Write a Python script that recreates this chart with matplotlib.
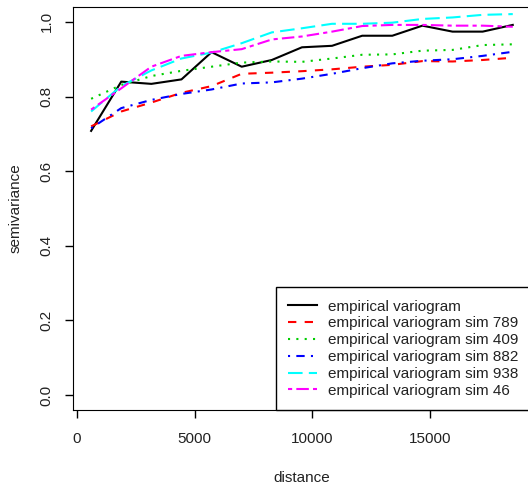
import matplotlib.pyplot as plt

plt.rcParams['font.family'] = ['Liberation Sans', 'DejaVu Sans']

# lag distances
dist = [600, 1880, 3160, 4440, 5720, 7000, 8280, 9560, 10840, 12120,
        13400, 14680, 15960, 17240, 18520]

# semivariance values
emp = [0.708, 0.840, 0.834, 0.846, 0.919, 0.880, 0.898, 0.932, 0.936, 0.963,
       0.963, 0.990, 0.974, 0.974, 0.992]
sim789 = [0.720, 0.760, 0.784, 0.810, 0.828, 0.861, 0.864, 0.868, 0.873, 0.880,
          0.885, 0.895, 0.894, 0.898, 0.904]
sim409 = [0.794, 0.831, 0.855, 0.869, 0.880, 0.891, 0.894, 0.893, 0.902, 0.912,
          0.913, 0.923, 0.925, 0.938, 0.940]
sim882 = [0.715, 0.769, 0.791, 0.807, 0.819, 0.835, 0.838, 0.848, 0.861, 0.876,
          0.889, 0.896, 0.900, 0.909, 0.920]
sim938 = [0.760, 0.828, 0.870, 0.902, 0.918, 0.943, 0.972, 0.983, 0.995, 0.995,
          0.998, 1.008, 1.012, 1.019, 1.021]
sim46 = [0.765, 0.822, 0.880, 0.909, 0.919, 0.927, 0.953, 0.961, 0.974, 0.989,
         0.992, 0.992, 0.990, 0.990, 0.987]

labels = ["empirical variogram", "empirical variogram sim 789",
          "empirical variogram sim 409", "empirical variogram sim 882",
          "empirical variogram sim 938", "empirical variogram sim 46"]

fs = 11

fig = plt.figure(figsize=(5.28, 4.87), dpi=100)
ax = fig.add_axes([73/528, 77/487, (531-73)/528, 403/487])

lw = 1.5
ax.plot(dist, emp, color='black', lw=lw, label=labels[0])
ax.plot(dist, sim789, color='#FF0000', lw=lw, dashes=(4, 4), label=labels[1])
ax.plot(dist, sim409, color='#00CD00', lw=lw, dashes=(1, 3), label=labels[2])
ax.plot(dist, sim882, color='#0000FF', lw=lw, dashes=(1, 3, 4, 3), label=labels[3])
ax.plot(dist, sim938, color='#00FFFF', lw=lw, dashes=(7, 3), label=labels[4])
ax.plot(dist, sim46, color='#FF00FF', lw=lw, dashes=(2, 2, 6, 2), label=labels[5])

ax.set_xlim(-170, 19295)
ax.set_ylim(-0.04, 1.04)
ax.set_xticks([0, 5000, 10000, 15000])
ax.set_yticks([0.0, 0.2, 0.4, 0.6, 0.8, 1.0])
ax.set_yticklabels(["0.0", "0.2", "0.4", "0.6", "0.8", "1.0"], rotation=90, va='center')
ax.tick_params(direction='out', length=6, width=1, labelsize=fs, labelcolor='#222222')
ax.tick_params(axis='x', pad=10)
ax.tick_params(axis='y', pad=8)
ax.set_xlabel("distance", fontsize=fs, labelpad=18, color='#222222')
ax.set_ylabel("semivariance", fontsize=fs, labelpad=12, color='#222222')

leg = ax.legend(loc='lower right', fontsize=fs, frameon=True, fancybox=False,
                edgecolor='black', framealpha=1, borderaxespad=0,
                handlelength=1.9, handletextpad=0.75, labelspacing=0.185,
                borderpad=0.8)
leg.get_frame().set_linewidth(1)
for t in leg.get_texts():
    t.set_color('#222222')

fig.savefig("out.png", dpi=100)
